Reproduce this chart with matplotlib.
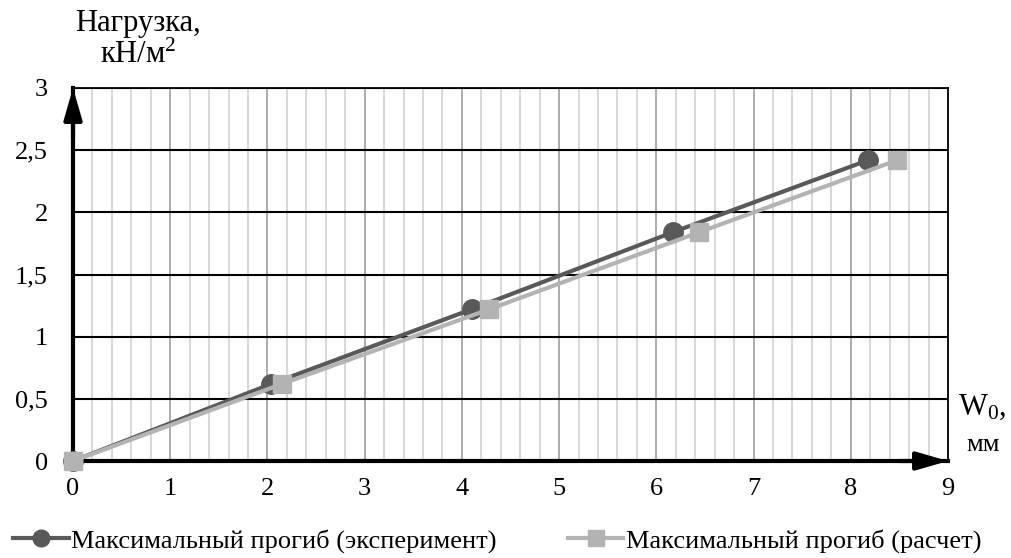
import matplotlib
matplotlib.use("Agg")
import matplotlib.pyplot as plt
from matplotlib.lines import Line2D

plt.rcParams['font.family'] = ['Liberation Serif', 'DejaVu Serif']
plt.rcParams['mathtext.fontset'] = 'custom'
plt.rcParams['mathtext.rm'] = 'Liberation Serif'
plt.rcParams['mathtext.it'] = 'Liberation Serif:italic'
plt.rcParams['mathtext.default'] = 'regular'

load = [0, 0.62, 1.22, 1.84, 2.42]
w_exp = [0, 2.04, 4.10, 6.17, 8.18]
w_calc = [0, 2.15, 4.28, 6.44, 8.48]
x_ticks = [0, 1, 2, 3, 4, 5, 6, 7, 8, 9]
y_ticks = [0, 0.5, 1, 1.5, 2, 2.5, 3]
y_labels = ['0', '0,5', '1', '1,5', '2', '2,5', '3']
label_exp = 'Максимальный прогиб (эксперимент)'
label_calc = 'Максимальный прогиб (расчет)'

c_exp = '#595959'
c_calc = '#b3b3b3'

fig = plt.figure(figsize=(10.11, 5.58), dpi=100)
ax = fig.add_axes([73/1011, 1-461/558, (948-73)/1011, (461-88)/558])
ax.set_xlim(0, 9)
ax.set_ylim(0, 3)

# grid
for i in range(1, 45):
    xv = i * 0.2
    major = abs(xv - round(xv)) < 1e-6
    ax.axvline(xv, color='#a6a6a6' if major else '#d4d4d4', lw=1.3, zorder=0)
for yv in y_ticks[1:]:
    ax.axhline(yv, color='black', lw=1.5, zorder=1)

for s in ['top', 'right']:
    ax.spines[s].set_linewidth(1.3)
ax.spines['left'].set_linewidth(3)
ax.spines['bottom'].set_linewidth(3)

ax.plot(w_exp, load, color=c_exp, lw=3, marker='o', ms=14, zorder=3, clip_on=False)
ax.plot(w_calc, load, color=c_calc, lw=3, marker='s', ms=13, zorder=4, clip_on=False)

# arrows
ax.annotate('', xy=(0, 3.0), xytext=(0, 2.6),
            arrowprops=dict(arrowstyle='-|>,head_width=0.55,head_length=1.9', color='black', lw=3, shrinkA=0, shrinkB=0),
            annotation_clip=False, zorder=6)
ax.annotate('', xy=(9, 0), xytext=(8.5, 0),
            arrowprops=dict(arrowstyle='-|>,head_width=0.55,head_length=1.9', color='black', lw=3, shrinkA=0, shrinkB=0),
            annotation_clip=False, zorder=6)

ax.set_xticks(x_ticks)
ax.set_xticklabels([str(v) for v in x_ticks])
ax.set_yticks(y_ticks)
ax.set_yticklabels(y_labels)
ax.tick_params(length=0, labelsize=19, pad=12)
ax.tick_params(axis='y', pad=18)

fig.text(138/1011, 1-24/558, 'Нагрузка,', ha='center', va='center', fontsize=22)
fig.text(138/1011, 1-55/558, 'кН/м$^{2}$', ha='center', va='center', fontsize=22)
fig.text(982/1011, 1-407/558, 'W$_{0}$,', ha='center', va='center', fontsize=22)
fig.text(983/1011, 1-445/558, 'мм', ha='center', va='center', fontsize=19)

handles = [Line2D([], [], color=c_exp, lw=3, marker='o', ms=12),
           Line2D([], [], color=c_calc, lw=3, marker='s', ms=12)]
fig.legend(handles, [label_exp, label_calc], loc='center', bbox_to_anchor=(0.492, 1-541/558),
           ncol=2, frameon=False, fontsize=19, handlelength=2.1, handletextpad=0.1,
           columnspacing=2.7, borderaxespad=0, borderpad=0)

fig.savefig('out.png', dpi=100)
